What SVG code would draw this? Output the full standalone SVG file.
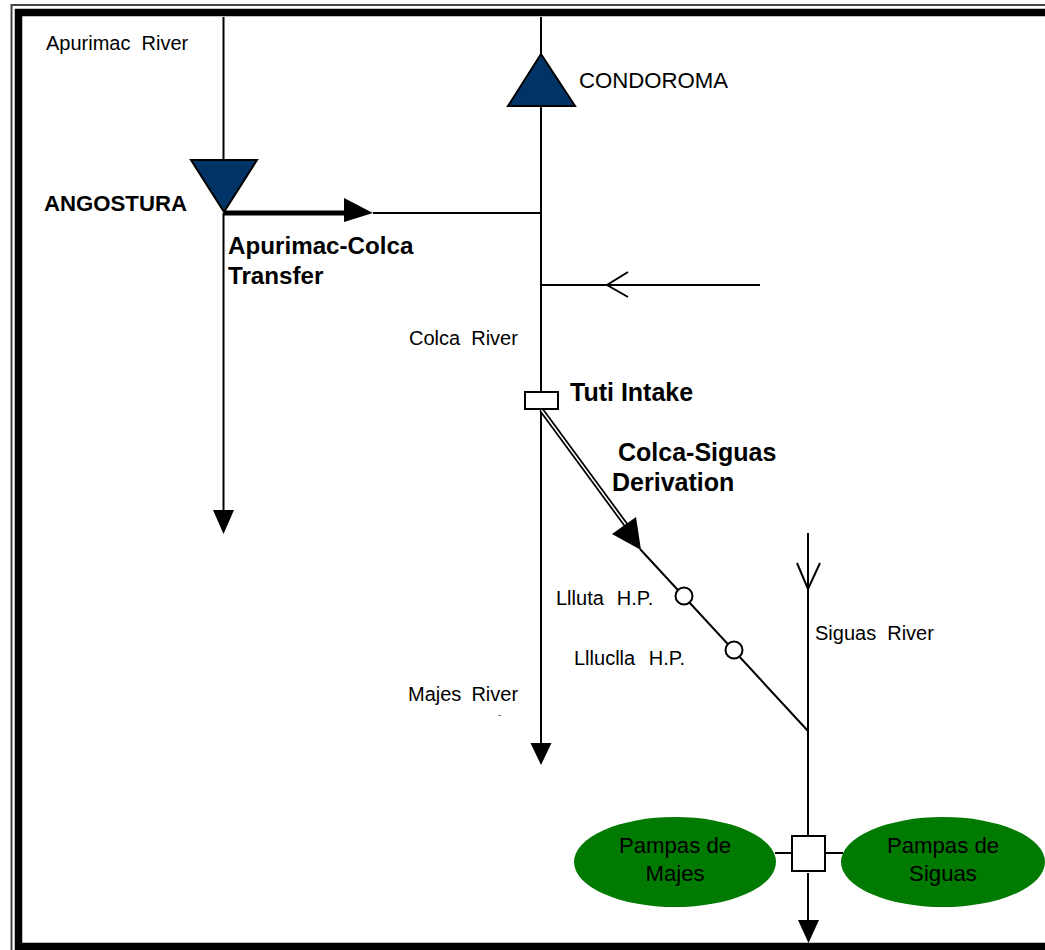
<svg xmlns="http://www.w3.org/2000/svg" width="1045" height="950" viewBox="0 0 1045 950">
<style>
text{font-family:"Liberation Sans",Arial,sans-serif;fill:#000}
.s{font-size:20px;word-spacing:5.500px}.m{font-size:22.200px}.b{font-size:25px;font-weight:bold}.t{font-size:24.200px;font-weight:bold}
.l{fill:none;stroke:#000;stroke-width:2}
.h{fill:#000;stroke:none}
.dam{fill:#003366;stroke:#000;stroke-width:2}
.farm{fill:#007a00;stroke:none}
.box{fill:#fff;stroke:#000;stroke-width:2}
</style>
<rect width="1045" height="950" fill="#fff"/>
<g id="frame">
<path d="M1045 5H11.500V950" fill="none" stroke="#444" stroke-width="2"/>
<path d="M1045 12.500H18.500V946.500H1045" fill="none" stroke="#000" stroke-width="7.500"/>
</g>
<g id="connectors">
<path class="l" d="M223.500 17V160M223.500 213V512"/>
<path class="h" d="M213 510H234L223.500 534Z"/>
<path class="l" d="M541 17V56M541 106V391M541 410V745"/>
<path class="h" d="M530.500 743H551.500L541 765Z"/>
<path d="M224 213H346" fill="none" stroke="#000" stroke-width="5"/>
<path class="h" d="M344 198L373 213L344 222Z"/>
<path class="l" d="M373 213H541"/>
<path class="l" d="M541 285H760"/>
<path class="l" d="M628 272L607 285L628 297"/>
<path d="M541.500 410L626 525" fill="none" stroke="#000" stroke-width="5"/>
<path d="M541.500 410L626 525" fill="none" stroke="#fff" stroke-width="1.500"/>
<path class="h" d="M636 517L641 550L612 534Z"/>
<path class="l" d="M640 549L808 731"/>
<path class="l" d="M808 533V835M808 873V922"/>
<path class="l" d="M797 563L808 589L820 563"/>
<path class="h" d="M798 920H819L808.500 943Z"/>
<path class="l" d="M775 853H792M825 853H843"/>
</g>
<g id="angostura"><path class="dam" d="M191 160H257L224 212Z"/><text class="m" x="44" y="211" style="font-weight:bold">ANGOSTURA</text></g>
<g id="condoroma"><path class="dam" d="M508 106H575L541 54Z"/><text class="m" x="579" y="88">CONDOROMA</text></g>
<g id="tuti-intake"><rect class="box" x="525" y="392" width="33" height="17"/><text class="b" x="570" y="401">Tuti Intake</text></g>
<g id="lluta-hp"><circle class="box" cx="684" cy="596" r="8.500"/><text class="s" x="556" y="605" style="word-spacing:7.500px">Llluta H.P.</text></g>
<g id="lluclla-hp"><circle class="box" cx="734" cy="650" r="8.500"/><text class="s" x="574" y="665" style="word-spacing:8px">Llluclla H.P.</text></g>
<g id="junction"><rect class="box" x="792" y="836" width="33" height="35"/></g>
<g id="pampas-majes"><ellipse class="farm" cx="675" cy="862" rx="101" ry="45"/><text class="m" text-anchor="middle" x="675" y="853">Pampas de</text><text class="m" text-anchor="middle" x="675" y="881">Majes</text></g>
<g id="pampas-siguas"><ellipse class="farm" cx="943" cy="862" rx="102" ry="45"/><text class="m" text-anchor="middle" x="943" y="853">Pampas de</text><text class="m" text-anchor="middle" x="943" y="881">Siguas</text></g>
<g id="labels">
<text class="s" x="46" y="50">Apurimac River</text>
<text class="t" x="228" y="254">Apurimac-Colca</text>
<text class="t" x="228" y="284">Transfer</text>
<text class="s" x="409" y="345">Colca River</text>
<text class="b" x="618" y="461">Colca-Siguas</text>
<text class="b" x="612" y="491">Derivation</text>
<text class="s" x="815" y="640">Siguas River</text>
<text class="s" x="408" y="701" style="word-spacing:4.500px">Majes River</text>
<text x="498" y="718" style="font-size:9px">-</text>
</g>
</svg>
